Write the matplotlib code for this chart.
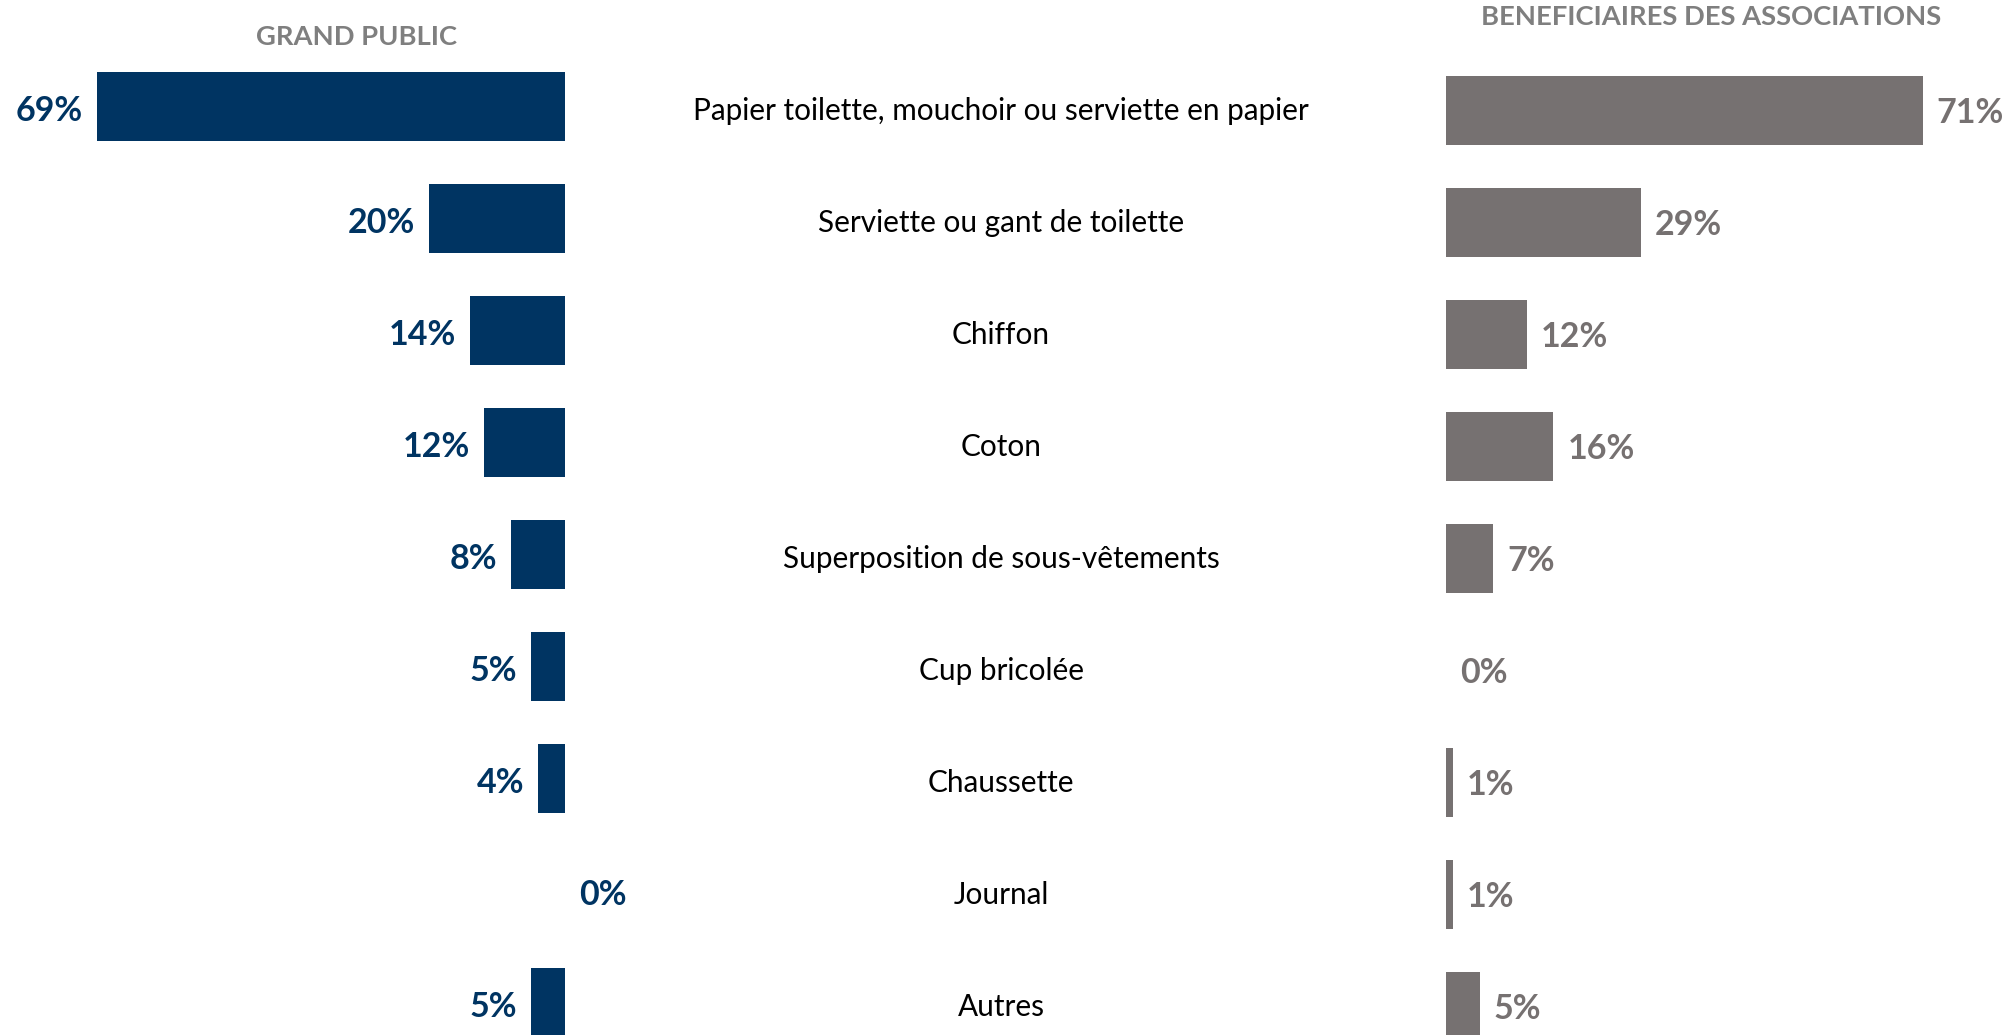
import matplotlib.pyplot as plt

#fonts
plt.rcParams['font.family'] = ['Lato', 'DejaVu Sans']

#data
categories = ['Papier toilette, mouchoir ou serviette en papier',
              'Serviette ou gant de toilette',
              'Chiffon',
              'Coton',
              'Superposition de sous-vêtements',
              'Cup bricolée',
              'Chaussette',
              'Journal',
              'Autres']
grand_public = [69, 20, 14, 12, 8, 5, 4, 0, 5]
beneficiaires = [71, 29, 12, 16, 7, 0, 1, 1, 5]

title_left = 'GRAND PUBLIC'
title_right = 'BENEFICIAIRES DES ASSOCIATIONS'

#colours
navy = '#003462'
grey_bar = '#767171'
grey_title = '#7f7f7f'

W, H = 2013, 1035
fig = plt.figure(figsize=(W / 100, H / 100), dpi=100)

#row positions
rows = list(range(len(categories)))
top = -0.952
bottom = 8.29

#left panel (reversed axis)
axl = fig.add_axes([0, 0, 565 / W, 1])
axl.barh(rows, grand_public, height=0.62, color=navy)
axl.set_xlim(83.3, 0)
axl.set_ylim(bottom, top)
axl.axis('off')
for r, v in zip(rows, grand_public):
    if v == 0:
        axl.annotate(f'{v}%', (0, r), xytext=(10, -3), textcoords='offset points',
                     ha='left', va='center', fontsize=24.5, fontweight='bold',
                     color=navy, annotation_clip=False)
    else:
        axl.annotate(f'{v}%', (v, r), xytext=(-10, -3), textcoords='offset points',
                     ha='right', va='center', fontsize=24.5, fontweight='bold',
                     color=navy, annotation_clip=False)

#middle labels
axm = fig.add_axes([565 / W, 0, (1446 - 565) / W, 1])
axm.set_xlim(0, 1)
axm.set_ylim(bottom, top)
axm.axis('off')
for r, c in zip(rows, categories):
    axm.annotate(c, (0.495, r), xytext=(0, -3), textcoords='offset points',
                 ha='center', va='center', fontsize=21.4, color='black')

#right panel
shift = 0.036
axr = fig.add_axes([1446 / W, 0, (W - 1446) / W, 1])
axr.barh(rows, beneficiaires, height=0.62, color=grey_bar)
axr.set_xlim(0, 84.4)
axr.set_ylim(bottom - shift, top - shift)
axr.axis('off')
for r, v in zip(rows, beneficiaires):
    axr.annotate(f'{v}%', (v, r), xytext=(10, -2), textcoords='offset points',
                 ha='left', va='center', fontsize=24.5, fontweight='bold',
                 color=grey_bar, annotation_clip=False)

#titles
fig.text(357 / W, 1 - 37 / H, title_left, ha='center', va='center',
         fontsize=19.7, fontweight='bold', color=grey_title)
fig.text(1711 / W, 1 - 17 / H, title_right, ha='center', va='center',
         fontsize=19.7, fontweight='bold', color=grey_title)

fig.savefig('out.png', dpi=100)
